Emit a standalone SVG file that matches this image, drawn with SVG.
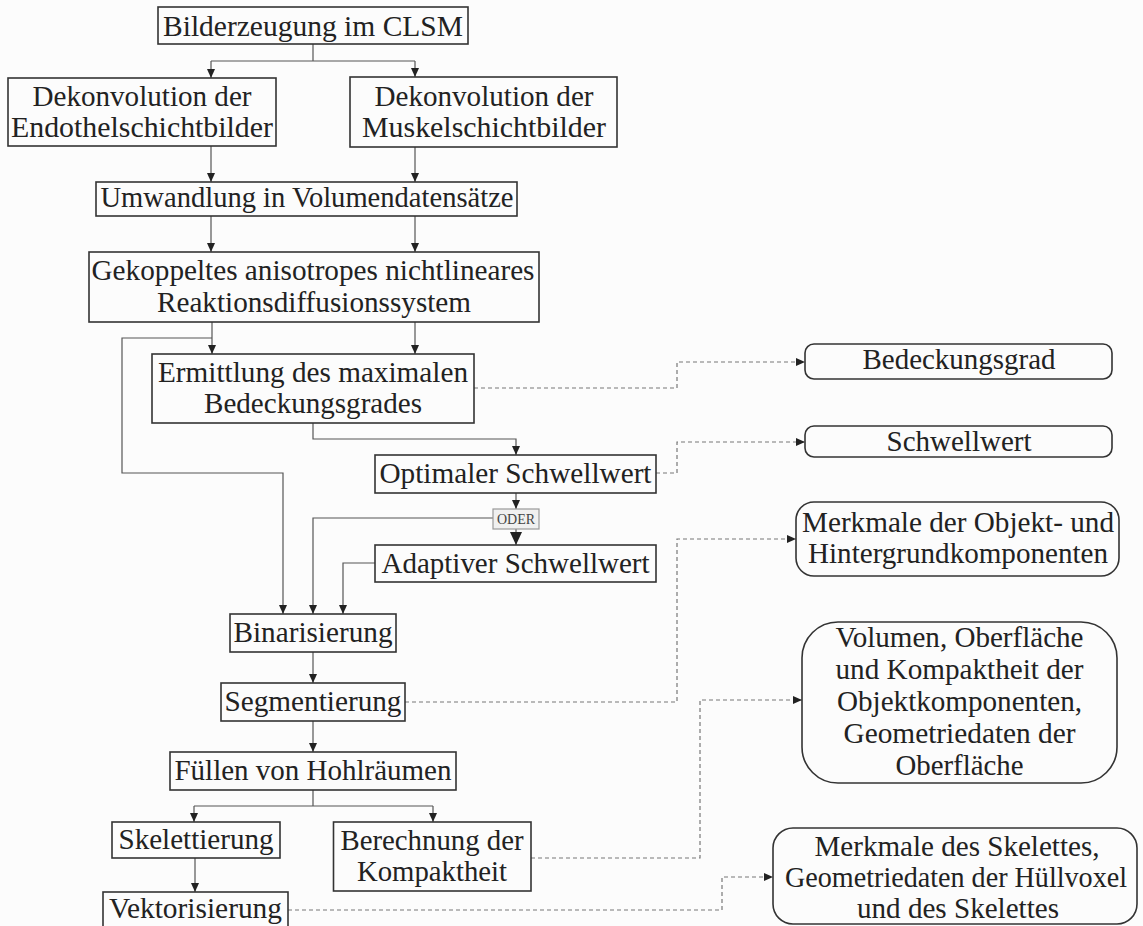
<svg xmlns="http://www.w3.org/2000/svg" width="1143" height="926" viewBox="0 0 1143 926">
<style>
.bx{fill:none;stroke:#333;stroke-width:1.6}
.t{font-family:"Liberation Serif","Times New Roman",serif;font-size:30px;fill:#222;text-anchor:middle}
.c{fill:none;stroke:#555;stroke-width:1.2}
.d{fill:none;stroke:#777;stroke-width:1.2;stroke-dasharray:4 3}
</style>
<defs>
<marker id="a" markerUnits="userSpaceOnUse" markerWidth="9" markerHeight="8" viewBox="0 0 9 8" refX="9" refY="4" orient="auto"><path d="M0,0 L9,4 L0,8 z" fill="#222"/></marker>
<marker id="ab" markerUnits="userSpaceOnUse" markerWidth="13" markerHeight="12" viewBox="0 0 13 12" refX="13" refY="6" orient="auto"><path d="M0,0 L13,6 L0,12 z" fill="#222"/></marker>
</defs>
<rect width="1143" height="926" fill="#fcfcfc"/>
<g id="connectors">
<path class="c" d="M313,44 V61 M211,61 H415"/>
<path class="c" d="M211,61 V78" marker-end="url(#a)"/>
<path class="c" d="M415,61 V77" marker-end="url(#a)"/>
<path class="c" d="M211,146 V182" marker-end="url(#a)"/>
<path class="c" d="M415,147 V182" marker-end="url(#a)"/>
<path class="c" d="M211,216 V252" marker-end="url(#a)"/>
<path class="c" d="M415,216 V252" marker-end="url(#a)"/>
<path class="c" d="M212,322 V354" marker-end="url(#a)"/>
<path class="c" d="M415,322 V354" marker-end="url(#a)"/>
<path class="c" d="M212,338 H122 V473 H283 V614" marker-end="url(#a)"/>
<path class="c" d="M313,423 V439 H516 V455" marker-end="url(#a)"/>
<path class="c" d="M516,493 V509" marker-end="url(#a)"/>
<path class="c" d="M493,518 H313 V614" marker-end="url(#a)"/>
<path class="c" d="M516,529 V545" marker-end="url(#ab)"/>
<path class="c" d="M375,563 H343 V614" marker-end="url(#a)"/>
<path class="c" d="M313,652 V683" marker-end="url(#a)"/>
<path class="c" d="M313,721 V752" marker-end="url(#a)"/>
<path class="c" d="M313,790 V806 M194,806 H433"/>
<path class="c" d="M194,806 V822" marker-end="url(#a)"/>
<path class="c" d="M433,806 V822" marker-end="url(#a)"/>
<path class="c" d="M195,858 V892" marker-end="url(#a)"/>
<path class="d" d="M474,388 H677 V362 H805" marker-end="url(#a)"/>
<path class="d" d="M656,473 H677 V442 H805" marker-end="url(#a)"/>
<path class="d" d="M405,702 H677 V539 H796" marker-end="url(#a)"/>
<path class="d" d="M531,858 H700 V700 H802" marker-end="url(#a)"/>
<path class="d" d="M288,910 H722 V877 H773" marker-end="url(#a)"/>
</g>
<g id="n1"><rect class="bx" x="158" y="7" width="310" height="37"/><text class="t" x="313" y="36" textLength="300" lengthAdjust="spacingAndGlyphs">Bilderzeugung im CLSM</text></g>
<g id="n2"><rect class="bx" x="8" y="78" width="268" height="68"/><text class="t" x="142" y="106" textLength="219" lengthAdjust="spacingAndGlyphs">Dekonvolution der</text><text class="t" x="142" y="137" textLength="262" lengthAdjust="spacingAndGlyphs">Endothelschichtbilder</text></g>
<g id="n3"><rect class="bx" x="350" y="77" width="267" height="70"/><text class="t" x="484" y="106" textLength="219" lengthAdjust="spacingAndGlyphs">Dekonvolution der</text><text class="t" x="484" y="137" textLength="244" lengthAdjust="spacingAndGlyphs">Muskelschichtbilder</text></g>
<g id="n4"><rect class="bx" x="96" y="182" width="421" height="34"/><text class="t" x="307" y="207" textLength="413" lengthAdjust="spacingAndGlyphs">Umwandlung in Volumendatensätze</text></g>
<g id="n5"><rect class="bx" x="89" y="252" width="450" height="70"/><text class="t" x="313" y="280" textLength="443" lengthAdjust="spacingAndGlyphs">Gekoppeltes anisotropes nichtlineares</text><text class="t" x="314" y="312" textLength="314" lengthAdjust="spacingAndGlyphs">Reaktionsdiffusionssystem</text></g>
<g id="n6"><rect class="bx" x="152" y="354" width="322" height="69"/><text class="t" x="313" y="382" textLength="310" lengthAdjust="spacingAndGlyphs">Ermittlung des maximalen</text><text class="t" x="313" y="413" textLength="218" lengthAdjust="spacingAndGlyphs">Bedeckungsgrades</text></g>
<g id="n7"><rect class="bx" x="375" y="455" width="281" height="38"/><text class="t" x="515.5" y="483" textLength="272" lengthAdjust="spacingAndGlyphs">Optimaler Schwellwert</text></g>
<g id="n8"><rect x="493" y="509" width="46" height="20" fill="#f0f0f0" stroke="#999" stroke-width="1.2"/><text x="516" y="524" font-family="Liberation Serif,serif" font-size="14" fill="#444" text-anchor="middle">ODER</text></g>
<g id="n9"><rect class="bx" x="375" y="545" width="281" height="37"/><text class="t" x="515.5" y="573" textLength="268" lengthAdjust="spacingAndGlyphs">Adaptiver Schwellwert</text></g>
<g id="n10"><rect class="bx" x="230" y="614" width="166" height="38"/><text class="t" x="313" y="642" textLength="159" lengthAdjust="spacingAndGlyphs">Binarisierung</text></g>
<g id="n11"><rect class="bx" x="221" y="683" width="184" height="38"/><text class="t" x="313" y="711" textLength="177" lengthAdjust="spacingAndGlyphs">Segmentierung</text></g>
<g id="n12"><rect class="bx" x="170" y="752" width="286" height="38"/><text class="t" x="313" y="780" textLength="277" lengthAdjust="spacingAndGlyphs">Füllen von Hohlräumen</text></g>
<g id="n13"><rect class="bx" x="112" y="822" width="168" height="36"/><text class="t" x="196" y="849" textLength="155" lengthAdjust="spacingAndGlyphs">Skelettierung</text></g>
<g id="n14"><rect class="bx" x="333.5" y="822" width="197.5" height="69"/><text class="t" x="432" y="850" textLength="183" lengthAdjust="spacingAndGlyphs">Berechnung der</text><text class="t" x="432" y="881" textLength="150" lengthAdjust="spacingAndGlyphs">Kompaktheit</text></g>
<g id="n15"><rect class="bx" x="103" y="892" width="185" height="40"/><text class="t" x="195.5" y="918" textLength="173" lengthAdjust="spacingAndGlyphs">Vektorisierung</text></g>
<g id="r1"><rect class="bx" x="805" y="344" width="307" height="35" rx="9"/><text class="t" x="959" y="369" textLength="193" lengthAdjust="spacingAndGlyphs">Bedeckungsgrad</text></g>
<g id="r2"><rect class="bx" x="805" y="426" width="307" height="31" rx="9"/><text class="t" x="959" y="451" textLength="145" lengthAdjust="spacingAndGlyphs">Schwellwert</text></g>
<g id="r3"><rect class="bx" x="796" y="502" width="323" height="74" rx="18"/><text class="t" x="958" y="532" textLength="312" lengthAdjust="spacingAndGlyphs">Merkmale der Objekt- und</text><text class="t" x="958" y="563" textLength="300" lengthAdjust="spacingAndGlyphs">Hintergrundkomponenten</text></g>
<g id="r4"><rect class="bx" x="802" y="622" width="315" height="161" rx="36"/><text class="t" x="959.5" y="647" textLength="248" lengthAdjust="spacingAndGlyphs">Volumen, Oberfläche</text><text class="t" x="959.5" y="679" textLength="248" lengthAdjust="spacingAndGlyphs">und Kompaktheit der</text><text class="t" x="959.5" y="711" textLength="245" lengthAdjust="spacingAndGlyphs">Objektkomponenten,</text><text class="t" x="959.5" y="743" textLength="232" lengthAdjust="spacingAndGlyphs">Geometriedaten der</text><text class="t" x="959.5" y="775" textLength="128" lengthAdjust="spacingAndGlyphs">Oberfläche</text></g>
<g id="r5"><rect class="bx" x="773" y="828" width="364" height="96" rx="20"/><text class="t" x="957" y="856" textLength="285" lengthAdjust="spacingAndGlyphs">Merkmale des Skelettes,</text><text class="t" x="956" y="887" textLength="342" lengthAdjust="spacingAndGlyphs">Geometriedaten der Hüllvoxel</text><text class="t" x="958" y="918" textLength="202" lengthAdjust="spacingAndGlyphs">und des Skelettes</text></g>
</svg>
